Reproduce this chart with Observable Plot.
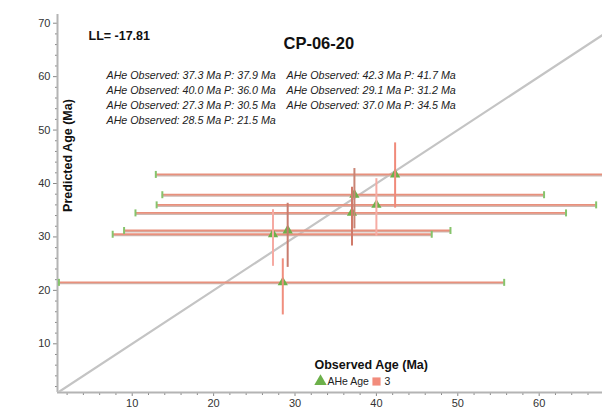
<!DOCTYPE html>
<html>
<head>
<meta charset="utf-8">
<script src="https://cdn.jsdelivr.net/npm/d3@7"></script>
<script src="https://cdn.jsdelivr.net/npm/@observablehq/plot@0.6"></script>
<style>
  html, body { margin: 0; padding: 0; background: #fff; }
  #chart svg { display: block; font-family: "Liberation Sans", Arial, sans-serif; }
</style>
</head>
<body>
<div id="chart"></div>
<script>
// Sample CP-06-20: observed vs predicted AHe ages (Ma)
const sampleName = "CP-06-20";
const logLikelihood = -17.81;
const observed  = [37.3, 42.3, 40.0, 29.1, 27.3, 37.0, 28.5];
const predicted = [37.9, 41.7, 36.0, 31.2, 30.5, 34.5, 21.5];
// observed-age uncertainty (horizontal bars)
const obsLow  = [13.7, 12.9, 13.0, 9.0, 7.6, 10.4, 1.0];
const obsHigh = [60.6, 71.7, 67.0, 49.1, 46.8, 63.3, 55.7];
// predicted-age range (vertical bars)
const predLow  = [31.5, 35.4, 30.1, 24.3, 24.5, 28.3, 15.4];
const predHigh = [42.8, 47.6, 40.9, 36.3, 35.1, 39.3, 25.9];
const xTicks = [10, 20, 30, 40, 50, 60];
const yTicks = [10, 20, 30, 40, 50, 60, 70];
const legendLabels = ["AHe Age", "3"];

// shades of the vertical bars, one per grain
const vShade = ["#c98474", "#f08a7a", "#f6aca4", "#c87c6e", "#f6aaa2", "#d07a6a", "#f08e7e"];

const rows = observed.map((o, i) => ({
  obs: o, pred: predicted[i],
  obsLow: obsLow[i], obsHigh: obsHigh[i],
  predLow: predLow[i], predHigh: predHigh[i],
  shade: vShade[i],
  label: `AHe Observed: ${o.toFixed(1)} Ma P: ${predicted[i].toFixed(1)} Ma`
}));

// annotation block: grains listed across two columns
const column1 = rows.filter((d, i) => i % 2 === 0).map(d => d.label).join("\n");
const column2 = rows.filter((d, i) => i % 2 === 1).map(d => d.label).join("\n");

const xDomain = [0.82, 67.78];
const yDomain = [0.885, 71.63];
const xMinor = d3.range(2, 68, 2).filter(v => v % 10 !== 0);
const yMinor = d3.range(2, 72, 2).filter(v => v % 10 !== 0);
const diagonal = [0, 75];

// short vertical cap drawn at the ends of the horizontal bars
const capSymbol = { draw(ctx, size) { const h = Math.sqrt(size / Math.PI); ctx.moveTo(0, -h); ctx.lineTo(0, h); } };

const font = "Liberation Sans, Arial, sans-serif";

const chart = Plot.plot({
  width: 602,
  height: 411,
  marginLeft: 57,
  marginRight: 0,
  marginTop: 14,
  marginBottom: 19,
  style: { fontFamily: font, background: "#fff" },
  x: { domain: xDomain },
  y: { domain: yDomain },
  marks: [
    // axes
    Plot.axisX({ ticks: xMinor, tickSize: 3, text: null, stroke: "#888" }),
    Plot.axisX({ ticks: xTicks, tickSize: 4, tickPadding: 3, fontSize: 11, color: "#333", stroke: "#888", label: null }),
    Plot.axisY({ ticks: yMinor, tickSize: 2, text: null, stroke: "#888" }),
    Plot.axisY({ ticks: yTicks, tickSize: 4, tickPadding: 3, fontSize: 11, color: "#333", stroke: "#888", label: null }),
    Plot.ruleX([xDomain[0]], { stroke: "#b4b4b4", strokeWidth: 2 }),
    Plot.ruleY([yDomain[0]], { stroke: "#b4b4b4", strokeWidth: 2 }),

    // 1:1 line
    Plot.line(diagonal, { x: d => d, y: d => d, stroke: "#c4c4c4", strokeWidth: 2.2, clip: true }),

    // horizontal bars (observed age uncertainty)
    Plot.ruleY(rows, { y: "pred", x1: "obsLow", x2: "obsHigh", stroke: "#ccbab4", strokeWidth: 1.6, dy: 1.2, clip: true }),
    Plot.ruleY(rows, { y: "pred", x1: "obsLow", x2: "obsHigh", stroke: "#e8907c", strokeWidth: 1.8, clip: true }),
    Plot.dot(rows, { x: "obsLow", y: "pred", symbol: capSymbol, r: 3.5, stroke: "#86c46c", strokeWidth: 2, clip: true }),
    Plot.dot(rows, { x: "obsHigh", y: "pred", symbol: capSymbol, r: 3.5, stroke: "#86c46c", strokeWidth: 2, clip: true }),

    // grains
    Plot.dot(rows, { x: "obs", y: "pred", symbol: "triangle", r: 3.8, fill: "#6cb04a", stroke: "none" }),

    // vertical bars (predicted age range)
    Plot.ruleX(rows, { x: "obs", y1: "predLow", y2: "predHigh", stroke: "shade", strokeWidth: 2 }),

    // log-likelihood and sample name
    Plot.text([`LL= ${logLikelihood}`], { frameAnchor: "top-left", dx: 31, dy: 21, textAnchor: "start", lineAnchor: "middle", fontSize: 12.5, fontWeight: "bold", fill: "#111", letterSpacing: "-0.4px" }),
    Plot.text([sampleName], { frameAnchor: "top-left", dx: 226, dy: 29.5, textAnchor: "start", lineAnchor: "middle", fontSize: 16.5, fontWeight: "bold", fill: "#111" }),

    // per-grain annotations in two columns
    Plot.text([column1], { frameAnchor: "top-left", dx: 49, dy: 54, textAnchor: "start", lineAnchor: "top", lineHeight: 1.41, fontSize: 10.7, fontStyle: "italic", fill: "#222" }),
    Plot.text([column2], { frameAnchor: "top-left", dx: 229, dy: 54, textAnchor: "start", lineAnchor: "top", lineHeight: 1.41, fontSize: 10.7, fontStyle: "italic", fill: "#222" }),

    // axis titles
    Plot.text(["Predicted Age (Ma)"], { frameAnchor: "top-left", dx: 10, dy: 141, rotate: -90, textAnchor: "middle", lineAnchor: "middle", fontSize: 12.5, fontWeight: "bold", fill: "#111" }),
    Plot.text(["Observed Age (Ma)"], { frameAnchor: "bottom-left", dx: 257, dy: -28, textAnchor: "start", lineAnchor: "middle", fontSize: 12.5, fontWeight: "bold", fill: "#111" }),

    // legend
    Plot.dot([legendLabels[0]], { frameAnchor: "bottom-left", dx: 263, dy: -11, symbol: "triangle", r: 4.6, fill: "#6cb04a" }),
    Plot.text([legendLabels[0]], { frameAnchor: "bottom-left", dx: 270, dy: -11, textAnchor: "start", lineAnchor: "middle", fontSize: 10.5, fill: "#222", letterSpacing: "-0.9px" }),
    Plot.dot([legendLabels[1]], { frameAnchor: "bottom-left", dx: 319, dy: -11, symbol: "square", r: 4.6, fill: "#f28c7c" }),
    Plot.text([legendLabels[1]], { frameAnchor: "bottom-left", dx: 327, dy: -11, textAnchor: "start", lineAnchor: "middle", fontSize: 10.5, fill: "#222" })
  ]
});

document.getElementById("chart").appendChild(chart);
</script>
</body>
</html>
